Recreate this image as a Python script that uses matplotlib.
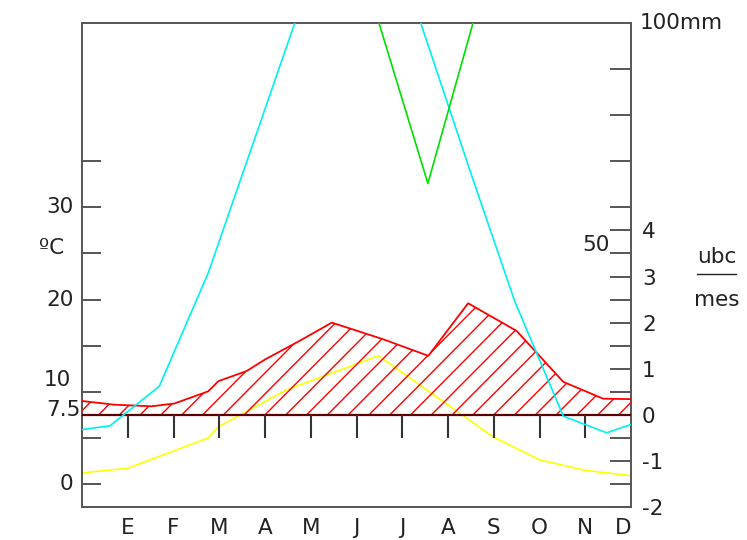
import numpy as np
import matplotlib
matplotlib.use('Agg')
import matplotlib.pyplot as plt
from matplotlib.collections import LineCollection
from matplotlib.lines import Line2D

# month initials (Spanish)
months = ['E', 'F', 'M', 'A', 'M', 'J', 'J', 'A', 'S', 'O', 'N', 'D']

# yellow curve, degrees C
yellow_x = [0, 1.0, 2.76, 2.98, 4.47, 6.48, 8.99, 10.01, 11.03, 12]
yellow_t = [1.2, 1.7, 5.0, 6.2, 10.2, 13.9, 5.1, 2.6, 1.45, 0.9]

# red hatched curve, ubc/mes
red_x = [0, 0.7, 1.52, 2.02, 2.76, 2.98, 3.6, 4.0, 4.73, 4.98, 5.46, 6.58,
         7.57, 8.44, 9.5, 10.52, 11.39, 12]
red_u = [0.30, 0.22, 0.185, 0.245, 0.51, 0.73, 0.95, 1.20, 1.59, 1.73, 2.0,
         1.64, 1.28, 2.42, 1.82, 0.715, 0.35, 0.34]

# cyan curve, mm
cyan_x = [0, 0.61, 1.69, 2.76, 5.0, 6.0, 7.0, 8.52, 9.46, 10.52, 11.47, 12]
cyan_mm = [11.8, 12.6, 21.2, 45.8, 110, 124, 112, 66.8, 39.6, 14.7, 11.1, 12.9]

# green curve, mm
green_x = [6.0, 7.56, 9.0]
green_mm = [116, 65.2, 116]

plt.rcParams['font.family'] = 'DejaVu Sans'
txt_color = '#222222'
axis_color = '#555555'
fs = 15.5

fig = plt.figure(figsize=(7.47, 5.40), dpi=100)
W, H = 747, 540
ax = fig.add_axes([82 / W, 1 - 507 / H, (631 - 82) / W, (507 - 23) / H])
ax.set_xlim(0, 12)
ax.set_ylim(-2.5, 50)

# second scale: ubc/mes (0 at 7.5 C, 1 unit = 5 C)
ax_u = ax.twinx()
ax_u.set_ylim(-2, 8.5)
# third scale: mm (2 mm per degree)
ax_mm = ax.twinx()
ax_mm.set_ylim(-5, 100)
for a in (ax_u, ax_mm):
    a.set_xlim(0, 12)
    for s in a.spines.values():
        s.set_visible(False)

for s in ax.spines.values():
    s.set_color(axis_color)
    s.set_linewidth(1.4)

# yellow line
ax.plot(yellow_x, yellow_t, color='#ffff00', lw=1.2)

# red hatched area
poly = ax_u.fill_between(red_x, 0, red_u, facecolor='none', edgecolor='none')
step = 0.4546
starts = np.arange(-6, 12.5, step)
segs = [[(x0, 0), (x0 + 6, 6)] for x0 in starts]
hatch = LineCollection(segs, colors='#ff0000', linewidths=1.0)
ax_u.add_collection(hatch)
hatch.set_clip_path(poly.get_paths()[0], ax_u.transData)
ax_u.plot(red_x, red_u, color='#ff0000', lw=1.3)
ax_u.axhline(0, color='#5a0000', lw=1.6)
ax_u.vlines(range(1, 12), -0.5, 0, color='#333333', lw=1.5)

# cyan and green lines
ax_mm.plot(cyan_x, cyan_mm, color='#00f0f0', lw=1.2)
ax_mm.plot(green_x, green_mm, color='#00e000', lw=1.2)

# ticks
ax.set_yticks(np.arange(0, 36, 5))
ax.tick_params(axis='y', direction='in', length=14, width=1.4, color=axis_color,
               left=True, right=False, labelleft=False)
ax.set_xticks(np.arange(1, 13), months)
ax.tick_params(axis='x', length=0, pad=8, labelsize=fs, labelcolor=txt_color)
ax.get_xticklabels()[-1].set_horizontalalignment('right')

ax_u.set_yticks(np.arange(-2, 5), [str(v) for v in range(-2, 5)])
ax_u.set_yticks(np.arange(-1.5, 4, 1), minor=True)
ax_u.tick_params(axis='y', which='both', direction='in', length=15, width=1.4,
                 color=axis_color, pad=8, labelsize=fs, labelcolor=txt_color)
ax_mm.set_yticks([60, 70, 80, 90])
ax_mm.tick_params(axis='y', direction='in', length=15, width=1.4,
                  color=axis_color, labelright=False)

# left labels
yt = ax.get_yaxis_transform()
for lbl, v, dx, va in [('30', 30, -6, 'center'), ('20', 20, -6, 'center'),
                       ('10', 10, -8, 'baseline'), ('0', 0, -6, 'center')]:
    ax.annotate(lbl, xy=(0, v), xycoords=yt, xytext=(dx, 4 if va == 'baseline' else 0),
                textcoords='offset points', ha='right', va=va, fontsize=fs,
                color=txt_color)
ax.annotate('7.5', xy=(0, 7.5), xycoords=yt, xytext=(-1, -1), textcoords='offset points',
            ha='right', va='baseline', fontsize=fs, color=txt_color)
ax.annotate('ºC', xy=(0, 25.6), xycoords=yt, xytext=(-13, 0), textcoords='offset points',
            ha='right', va='center', fontsize=fs, color=txt_color)

# right labels
ax_mm.annotate('100mm', xy=(1, 100), xycoords=ax_mm.get_yaxis_transform(),
               xytext=(6, 0), textcoords='offset points', ha='left', va='center',
               fontsize=fs, color=txt_color)
ax_mm.annotate('50', xy=(1, 50), xycoords=ax_mm.get_yaxis_transform(),
               xytext=(-15, 6), textcoords='offset points', ha='right', va='center',
               fontsize=fs, color=txt_color)

fig.text(717 / W, 1 - 257 / H, 'ubc', ha='center', va='center', fontsize=fs, color=txt_color)
fig.text(717 / W, 1 - 300 / H, 'mes', ha='center', va='center', fontsize=fs, color=txt_color)
fig.add_artist(Line2D([697 / W, 736 / W], [1 - 274 / H, 1 - 274 / H],
                      color=txt_color, lw=1.0, transform=fig.transFigure))

fig.savefig('out.png', dpi=100)
